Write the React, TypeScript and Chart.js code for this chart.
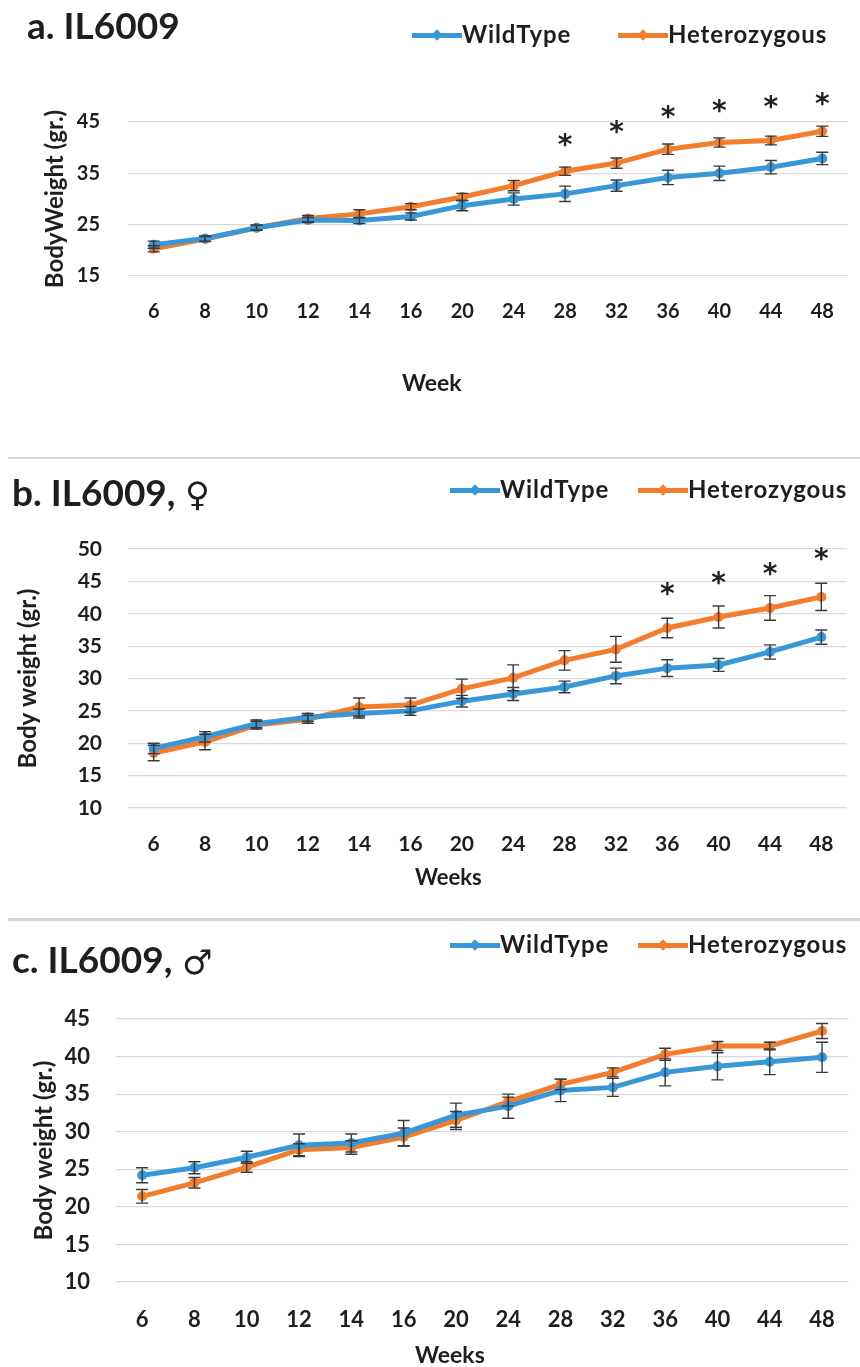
import React, { useEffect, useRef } from 'react';
import { Chart, registerables } from 'chart.js';

Chart.register(...registerables);

// ---------------- DATA ----------------
const WEEKS = ['6', '8', '10', '12', '14', '16', '20', '24', '28', '32', '36', '40', '44', '48'];

const A_WILD = [21.1, 22.3, 24.4, 25.9, 25.8, 26.6, 28.7, 30.0, 31.0, 32.6, 34.2, 35.0, 36.2, 37.9];
const A_WILD_ERR = [0.7, 0.5, 0.5, 0.5, 0.6, 0.7, 1.0, 1.2, 1.5, 1.1, 1.4, 1.4, 1.3, 1.2];
const A_HET = [20.3, 22.2, 24.4, 26.2, 27.1, 28.5, 30.4, 32.6, 35.4, 37.0, 39.7, 41.0, 41.4, 43.2];
const A_HET_ERR = [0.6, 0.5, 0.5, 0.6, 0.8, 0.6, 0.7, 1.0, 0.8, 1.0, 1.0, 0.9, 0.85, 1.0];
const A_STARS = [null, null, null, null, null, null, null, null, 41.6, 44.2, 47.1, 48.3, 49.0, 49.6];

const B_WILD = [19.2, 21.0, 23.0, 24.0, 24.6, 25.0, 26.5, 27.6, 28.7, 30.4, 31.6, 32.1, 34.1, 36.4];
const B_WILD_ERR = [0.8, 0.8, 0.6, 0.6, 0.7, 0.7, 0.9, 1.0, 0.9, 1.2, 1.3, 1.0, 1.1, 1.1];
const B_HET = [18.5, 20.2, 22.8, 23.7, 25.6, 25.9, 28.4, 30.1, 32.8, 34.5, 37.8, 39.5, 40.9, 42.6];
const B_HET_ERR = [1.2, 1.2, 0.6, 0.6, 1.4, 1.1, 1.5, 2.0, 1.5, 2.0, 1.5, 1.7, 1.9, 2.1];
const B_STARS = [null, null, null, null, null, null, null, null, null, null, 44.0, 45.6, 47.0, 49.3];

const C_WILD = [24.2, 25.2, 26.6, 28.2, 28.5, 29.8, 32.2, 33.4, 35.5, 35.9, 37.9, 38.7, 39.3, 39.9];
const C_WILD_ERR = [1.0, 0.8, 0.8, 1.5, 1.2, 1.7, 1.6, 1.6, 1.5, 1.2, 1.8, 1.8, 1.7, 2.0];
const C_HET = [21.4, 23.2, 25.3, 27.6, 27.9, 29.3, 31.5, 34.0, 36.3, 37.9, 40.3, 41.4, 41.4, 43.4];
const C_HET_ERR = [0.9, 0.7, 0.7, 0.8, 0.9, 1.2, 1.2, 0.6, 0.7, 0.6, 0.8, 0.6, 0.5, 1.0];
const C_STARS: (number | null)[] = [];

const SERIES_NAMES = ['WildType', 'Heterozygous'];

// ---------------- STYLE ----------------
const BLUE = '#3A97D7';
const ORANGE = '#F37D2E';
const FONT = 'Lato, "Open Sans", sans-serif';
const TEXT = '#1e1e1e';

const errorBarsPlugin = {
  id: 'errorBars',
  afterDatasetsDraw(chart: any) {
    const { ctx } = chart;
    const y = chart.scales.y;
    chart.data.datasets.forEach((ds: any, i: number) => {
      const errs = ds.errors;
      if (!errs) return;
      const meta = chart.getDatasetMeta(i);
      ctx.save();
      ctx.strokeStyle = '#3a3a3a';
      ctx.lineWidth = 1.4;
      meta.data.forEach((pt: any, j: number) => {
        const v = ds.data[j];
        const e = errs[j];
        const top = y.getPixelForValue(v + e);
        const bot = y.getPixelForValue(v - e);
        const x = pt.x;
        ctx.beginPath();
        ctx.moveTo(x, top);
        ctx.lineTo(x, bot);
        ctx.moveTo(x - 6, top);
        ctx.lineTo(x + 6, top);
        ctx.moveTo(x - 6, bot);
        ctx.lineTo(x + 6, bot);
        ctx.stroke();
      });
      ctx.restore();
    });
  },
};

function makeStarsPlugin(values: (number | null)[]) {
  return {
    id: 'stars',
    afterDatasetsDraw(chart: any) {
      const { ctx } = chart;
      const xs = chart.scales.x;
      const ys = chart.scales.y;
      const size = 28;
      ctx.save();
      ctx.font = `bold ${size}px "DejaVu Sans"`;
      ctx.fillStyle = '#222';
      ctx.textAlign = 'center';
      ctx.textBaseline = 'alphabetic';
      values.forEach((v, j) => {
        if (v == null) return;
        ctx.fillText('*', xs.getPixelForValue(j), ys.getPixelForValue(v) + size * 0.525);
      });
      ctx.restore();
    },
  };
}

type PanelProps = {
  top: number;
  height: number;
  areaTop: number;
  areaBottom: number;
  yAxisW: number;
  padRight: number;
  wild: number[];
  wildErr: number[];
  het: number[];
  hetErr: number[];
  stars: (number | null)[];
  yMin: number;
  yMax: number;
  yStep: number;
  yTitle: string;
  yTitlePad: number;
  tickSize: number;
  xTickPad: number;
  yTickPad: number;
};

function Panel(p: PanelProps) {
  const ref = useRef<HTMLCanvasElement | null>(null);
  useEffect(() => {
    if (!ref.current) return;
    const xAxisH = p.height - p.areaBottom;
    const tickFont = { family: FONT, size: p.tickSize, weight: 'bold' as const };
    const chart = new Chart(ref.current, {
      type: 'line',
      data: {
        labels: WEEKS,
        datasets: [
          {
            label: SERIES_NAMES[0],
            data: p.wild,
            errors: p.wildErr,
            borderColor: BLUE,
            backgroundColor: BLUE,
            pointBackgroundColor: BLUE,
            borderWidth: 5,
            pointRadius: 5,
            pointBorderWidth: 0,
            tension: 0,
          } as any,
          {
            label: SERIES_NAMES[1],
            data: p.het,
            errors: p.hetErr,
            borderColor: ORANGE,
            backgroundColor: ORANGE,
            pointBackgroundColor: ORANGE,
            borderWidth: 5,
            pointRadius: 5,
            pointBorderWidth: 0,
            tension: 0,
          } as any,
        ],
      },
      options: {
        animation: false,
        responsive: false,
        maintainAspectRatio: false,
        layout: { padding: { top: p.areaTop, right: p.padRight, left: 0, bottom: 0 } },
        plugins: {
          legend: { display: false },
          tooltip: { enabled: false },
          title: { display: false },
        },
        scales: {
          x: {
            type: 'category',
            offset: true,
            grid: { display: false, drawTicks: false },
            border: { display: false },
            ticks: {
              color: TEXT,
              font: tickFont,
              padding: p.xTickPad,
              maxRotation: 0,
              autoSkip: false,
            },
            afterFit: (s: any) => {
              s.height = xAxisH;
            },
          },
          y: {
            min: p.yMin,
            max: p.yMax,
            ticks: { stepSize: p.yStep, color: TEXT, font: tickFont, padding: p.yTickPad },
            grid: { color: '#d9d9d9', lineWidth: 1.2, drawTicks: false },
            border: { display: false },
            title: {
              display: true,
              text: p.yTitle,
              color: TEXT,
              font: { family: FONT, size: 24, weight: 'bold' },
              padding: { top: p.yTitlePad, bottom: 0 },
            },
            afterFit: (s: any) => {
              s.width = p.yAxisW;
            },
          },
        },
      },
      plugins: [errorBarsPlugin, makeStarsPlugin(p.stars)],
    } as any);
    return () => chart.destroy();
  }, []);
  return (
    <canvas
      ref={ref}
      width={860}
      height={p.height}
      style={{ position: 'absolute', left: 0, top: p.top, width: 860, height: p.height }}
    />
  );
}

function Text({ x, y, size, children }: { x: number; y: number; size: number; children: any }) {
  // y = vertical centre of capitals
  return (
    <div
      style={{
        position: 'absolute',
        left: x,
        top: y - size * 0.53,
        fontFamily: FONT,
        fontWeight: 'bold',
        fontSize: size,
        lineHeight: `${size}px`,
        color: TEXT,
        whiteSpace: 'nowrap',
      }}
    >
      {children}
    </div>
  );
}

function Symbol({ x, y, size, children }: { x: number; y: number; size: number; children: any }) {
  return (
    <div
      style={{
        position: 'absolute',
        left: x,
        top: y - size * 0.5,
        fontFamily: '"DejaVu Sans"',
        fontWeight: 'bold',
        fontSize: size,
        lineHeight: `${size}px`,
        color: TEXT,
        whiteSpace: 'nowrap',
      }}
    >
      {children}
    </div>
  );
}

function LegendItem({ x, y, color, label }: { x: number; y: number; color: string; label: string }) {
  return (
    <>
      <div
        style={{ position: 'absolute', left: x, top: y - 2.5, width: 50, height: 5, background: color }}
      />
      <div
        style={{
          position: 'absolute',
          left: x + 21,
          top: y - 4,
          width: 8,
          height: 8,
          background: color,
          transform: 'rotate(45deg)',
        }}
      />
      <div
        style={{
          position: 'absolute',
          left: x + 50,
          top: y - 24 * 0.53,
          fontFamily: FONT,
          fontWeight: 'bold',
          fontSize: 24,
          lineHeight: '24px',
          letterSpacing: '0.9px',
          color: TEXT,
          whiteSpace: 'nowrap',
        }}
      >
        {label}
      </div>
    </>
  );
}

export default function App() {
  return (
    <div
      style={{
        position: 'absolute',
        left: 0,
        top: 0,
        width: 860,
        height: 1367,
        background: '#fff',
        overflow: 'hidden',
      }}
    >
      <Panel
        top={0}
        height={458}
        areaTop={122}
        areaBottom={276}
        yAxisW={128}
        padRight={12}
        wild={A_WILD}
        wildErr={A_WILD_ERR}
        het={A_HET}
        hetErr={A_HET_ERR}
        stars={A_STARS}
        yMin={15}
        yMax={45}
        yStep={10}
        yTitle="BodyWeight (gr.)"
        yTitlePad={41}
        tickSize={20}
        xTickPad={24}
        yTickPad={28}
      />
      <Panel
        top={458}
        height={461}
        areaTop={91}
        areaBottom={350}
        yAxisW={128}
        padRight={13}
        wild={B_WILD}
        wildErr={B_WILD_ERR}
        het={B_HET}
        hetErr={B_HET_ERR}
        stars={B_STARS}
        yMin={10}
        yMax={50}
        yStep={5}
        yTitle="Body weight (gr.)"
        yTitlePad={14}
        tickSize={21}
        xTickPad={24}
        yTickPad={26}
      />
      <Panel
        top={919}
        height={448}
        areaTop={100}
        areaBottom={363}
        yAxisW={116}
        padRight={0}
        wild={C_WILD}
        wildErr={C_WILD_ERR}
        het={C_HET}
        hetErr={C_HET_ERR}
        stars={C_STARS}
        yMin={10}
        yMax={45}
        yStep={5}
        yTitle="Body weight (gr.)"
        yTitlePad={30}
        tickSize={22}
        xTickPad={25}
        yTickPad={26}
      />

      {/* separators */}
      <div style={{ position: 'absolute', left: 8, top: 457, width: 852, height: 2, background: '#dadada' }} />
      <div style={{ position: 'absolute', left: 8, top: 918, width: 852, height: 3, background: '#d2d2d2' }} />

      {/* panel titles */}
      <Text x={27} y={26} size={37}>a. IL6009</Text>
      <Text x={12} y={493} size={37}>b. IL6009,</Text>
      <Symbol x={185} y={494} size={34}>♀</Symbol>
      <Text x={12} y={960} size={37}>c. IL6009,</Text>
      <Symbol x={182} y={962} size={34}>♂</Symbol>

      {/* legends */}
      <LegendItem x={412} y={35} color={BLUE} label={SERIES_NAMES[0]} />
      <LegendItem x={618} y={35} color={ORANGE} label={SERIES_NAMES[1]} />
      <LegendItem x={450} y={490} color={BLUE} label={SERIES_NAMES[0]} />
      <LegendItem x={638} y={490} color={ORANGE} label={SERIES_NAMES[1]} />
      <LegendItem x={450} y={945} color={BLUE} label={SERIES_NAMES[0]} />
      <LegendItem x={638} y={945} color={ORANGE} label={SERIES_NAMES[1]} />

      {/* x-axis titles */}
      <Text x={402} y={383} size={23}>Week</Text>
      <Text x={415} y={878} size={22}>Weeks</Text>
      <Text x={415} y={1355} size={23}>Weeks</Text>
    </div>
  );
}
